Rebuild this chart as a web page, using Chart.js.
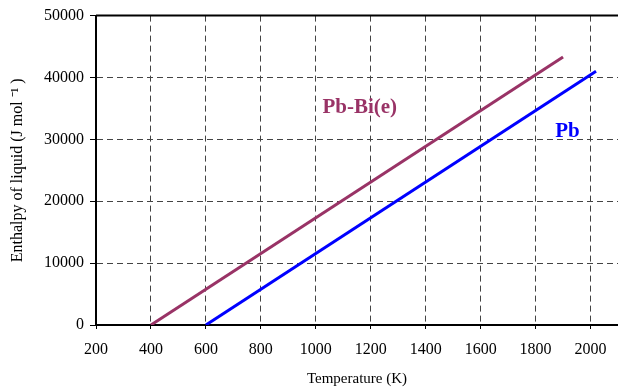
<!DOCTYPE html>
<html>
<head>
<meta charset="utf-8">
<script src="https://cdn.jsdelivr.net/npm/chart.js@4.4.1/dist/chart.umd.min.js"></script>
<style>
  html, body { margin: 0; padding: 0; background: #fff; }
  #wrap { width: 618px; height: 388px; }
</style>
</head>
<body>
<div id="wrap"><canvas id="chart" width="618" height="388"></canvas></div>
<script>
// values (temperature in K, enthalpy in J/mol)
const pbBiTemp = [400, 1900];
const pbBiEnthalpy = [0, 43300];
const pbTemp = [600, 2020];
const pbEnthalpy = [0, 41000];
const xTicks = [200, 400, 600, 800, 1000, 1200, 1400, 1600, 1800, 2000];
const yTicks = [0, 10000, 20000, 30000, 40000, 50000];

const seriesLabels = [
    { text: 'Pb-Bi(e)', x: 1160, y: 35200, color: '#993366' },
    { text: 'Pb', x: 1916, y: 31300, color: '#0000ff' }
];

function toPoints(xs, ys) {
    return xs.map(function(x, i) { return { x: x, y: ys[i] }; });
}

const serif = "'Liberation Serif', 'Times New Roman', serif";

const labelPlugin = {
    id: 'labels',
    afterDatasetsDraw: function(chart) {
        const ctx = chart.ctx;
        const xs = chart.scales.x, ys = chart.scales.y;
        const area = chart.chartArea;
        ctx.save();
        // solid top frame line
        ctx.strokeStyle = '#000';
        ctx.lineWidth = 2;
        ctx.beginPath();
        ctx.moveTo(area.left, area.top);
        ctx.lineTo(area.right, area.top);
        ctx.stroke();
        ctx.font = 'bold 21px ' + serif;
        ctx.textAlign = 'center';
        ctx.textBaseline = 'middle';
        seriesLabels.forEach(function(l) {
            ctx.fillStyle = l.color;
            ctx.fillText(l.text, xs.getPixelForValue(l.x), ys.getPixelForValue(l.y));
        });
        ctx.restore();
    }
};

new Chart(document.getElementById('chart'), {
    type: 'scatter',
    data: {
        datasets: [{
            data: toPoints(pbBiTemp, pbBiEnthalpy),
            showLine: true,
            borderColor: '#993366',
            borderWidth: 3,
            pointRadius: 0
        }, {
            data: toPoints(pbTemp, pbEnthalpy),
            showLine: true,
            borderColor: '#0000ff',
            borderWidth: 3,
            pointRadius: 0
        }]
    },
    options: {
        responsive: false,
        animation: false,
        layout: { padding: { top: 15, right: 0, left: 0, bottom: 0 } },
        plugins: {
            legend: { display: false },
            tooltip: { enabled: false }
        },
        scales: {
            x: {
                type: 'linear',
                min: 200,
                max: 2100,
                afterBuildTicks: function(axis) {
                    axis.ticks = xTicks.map(function(v) { return { value: v }; });
                },
                afterFit: function(axis) { axis.height = 63; },
                ticks: {
                    color: '#000',
                    font: { family: serif, size: 16 },
                    padding: 11,
                    maxRotation: 0,
                    callback: function(v) { return String(v); }
                },
                grid: {
                    color: function(c) { return c.tick && c.tick.value === 200 ? 'rgba(0,0,0,0)' : '#444'; },
                    lineWidth: 1,
                    tickLength: 4,
                    tickColor: '#000',
                    tickWidth: 1
                },
                border: { display: true, color: '#000', width: 2, dash: [6, 4] },
                title: {
                    display: true,
                    text: 'Temperature (K)',
                    color: '#000',
                    font: { family: serif, size: 15 },
                    padding: { top: 0, bottom: 0 }
                }
            },
            y: {
                min: 0,
                max: 50000,
                afterBuildTicks: function(axis) {
                    axis.ticks = yTicks.map(function(v) { return { value: v }; });
                },
                afterFit: function(axis) { axis.width = 96; },
                ticks: {
                    color: '#000',
                    font: { family: serif, size: 16 },
                    padding: 6,
                    callback: function(v) { return String(v); }
                },
                grid: {
                    color: function(c) { return c.tick && (c.tick.value === 0 || c.tick.value === 50000) ? 'rgba(0,0,0,0)' : '#444'; },
                    lineWidth: 1,
                    tickLength: 6,
                    tickColor: '#000',
                    tickWidth: 1
                },
                border: { display: true, color: '#000', width: 2, dash: [6, 4] },
                title: {
                    display: true,
                    text: 'Enthalpy of liquid (J mol \u207B\u00B9 )',
                    color: '#000',
                    font: { family: serif, size: 16 },
                    padding: { top: 8, bottom: 0 }
                }
            }
        }
    },
    plugins: [labelPlugin]
});
</script>
</body>
</html>
